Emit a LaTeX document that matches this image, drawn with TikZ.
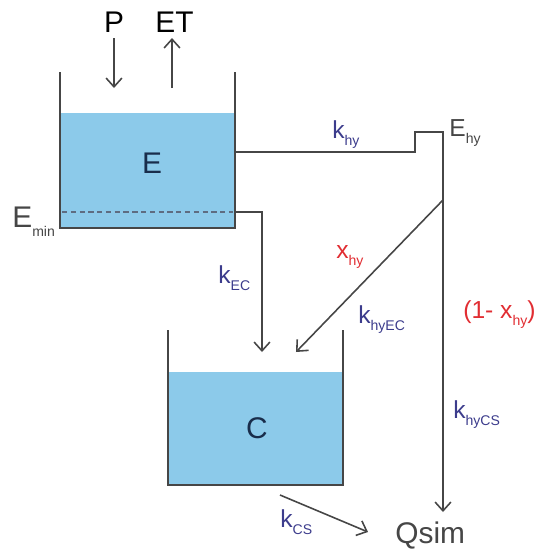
\documentclass[tikz,border=0pt]{standalone}
\usepackage{fontspec}
\setmainfont{Liberation Sans}
\usetikzlibrary{arrows.meta}

\definecolor{water}{RGB}{140,202,234}
\definecolor{wall}{RGB}{70,70,70}
\definecolor{rate}{RGB}{60,60,140}
\definecolor{frac}{RGB}{225,45,50}
\definecolor{store}{RGB}{25,45,75}
\newcommand{\lowsub}[1]{\raisebox{-0.6ex}{\fontsize{8}{9}\selectfont #1}}

\begin{document}
\begin{tikzpicture}[x=0.02cm, y=-0.02cm, >={Straight Barb[length=5pt,width=9pt]},
    wallline/.style={draw=wall, line width=1.2pt},
    flow/.style={draw=wall, line width=0.9pt},
    biglbl/.style={inner sep=0pt, font=\fontsize{17}{19}\selectfont},
    ratelbl/.style={inner sep=0pt, anchor=base west, text=rate, font=\fontsize{14}{16}\selectfont},
    fraclbl/.style={inner sep=0pt, anchor=base west, text=frac, font=\fontsize{14}{16}\selectfont}]
    \useasboundingbox (0,0) rectangle (556,549);

    % réservoir E
    \fill[water] (60,113) rectangle (235,228);
    \draw[densely dashed, color=store!70, line width=0.7pt] (62,212) -- (233,212);
    \draw[wallline] (60,72) -- (60,228) -- (235,228) -- (235,72);
    \node[biglbl, text=store] (e) at (152,163) {E};
    \node[biglbl, anchor=base west, text=wall] (emin) at (12,227) {E\lowsub{min}};

    % réservoir C
    \fill[water] (168,372) rectangle (343,485);
    \draw[wallline] (168,330) -- (168,485) -- (343,485) -- (343,330);
    \node[biglbl, text=store] (c) at (257,428) {C};

    % pluie et évapotranspiration
    \node[biglbl, anchor=base] (p) at (114,32) {P};
    \node[biglbl, anchor=base west] (et) at (155,32) {ET};
    \coordinate (ptop) at (114,38);
    \coordinate (pbot) at (114,88);
    \coordinate (etbot) at (172,88);
    \coordinate (ettop) at (172,38);
    \draw[flow, ->] (ptop) -- (pbot);
    \draw[flow, ->] (etbot) -- (ettop);

    % points des écoulements
    \coordinate (eout) at (235,152);
    \coordinate (notch) at (415,132);
    \coordinate (qin) at (443,512);
    \coordinate (split) at (443,200);
    \coordinate (cin2) at (296,352);
    \coordinate (einf) at (235,212);
    \coordinate (cin1) at (262,352);
    \coordinate (cout) at (280,495);
    \coordinate (qtip) at (368,532);

    \draw[flow, ->] (eout) -| (notch) -| (qin);
    \draw[flow, ->] (split) -- (cin2);
    \draw[flow, ->] (einf) -| (cin1);
    \draw[flow, ->] (cout) -- (qtip);

    % étiquettes
    \node[ratelbl, text=wall] (ehy) at (449,136) {E\lowsub{hy}};
    \node[ratelbl] (khy) at (332,138) {k\lowsub{hy}};
    \node[fraclbl] (xhy) at (336,258) {x\lowsub{hy}};
    \node[ratelbl] (khyec) at (358,323) {k\lowsub{hyEC}};
    \node[fraclbl] (onemx) at (463,318) {(1- x\lowsub{hy})};
    \node[ratelbl] (kec) at (218,283) {k\lowsub{EC}};
    \node[ratelbl] (khycs) at (453,418) {k\lowsub{hyCS}};
    \node[ratelbl] (kcs) at (280,527) {k\lowsub{CS}};
    \node[biglbl, anchor=base west, text=wall] (qsim) at (395,543) {Qsim};
\end{tikzpicture}
\end{document}
